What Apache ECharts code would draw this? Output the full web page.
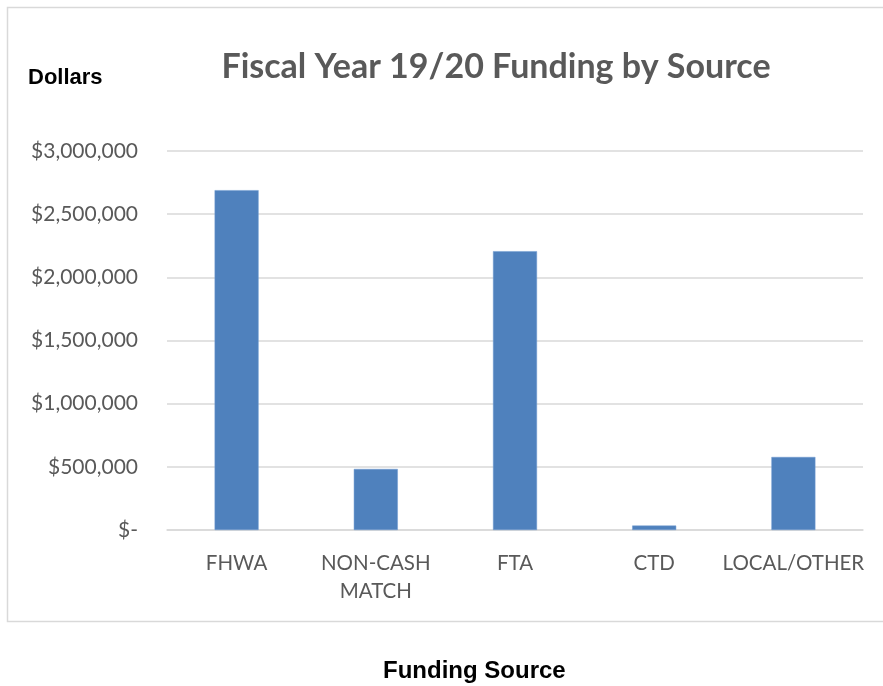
<!DOCTYPE html>
<html><head><meta charset="utf-8">
<script src="https://cdn.jsdelivr.net/npm/echarts@6/dist/echarts.min.js"></script>
<style>html,body{margin:0;padding:0;background:#fff}#c{width:883px;height:686px}</style>
</head><body><div id="c"></div>
<script>
const categories = ['FHWA', 'NON-CASH\nMATCH', 'FTA', 'CTD', 'LOCAL/OTHER'];
const values = [2690000, 483000, 2207000, 35000, 578000];
const yTicks = [0, 500000, 1000000, 1500000, 2000000, 2500000, 3000000];
const titleText = 'Fiscal Year 19/20 Funding by Source';
const yName = 'Dollars';
const xName = 'Funding Source';

const chart = echarts.init(document.getElementById('c'));
const grey = '#595959';
chart.setOption({
  animation: false,
  graphic: [
    {type: 'rect', shape: {x: 7.5, y: 7.5, width: 900, height: 614}, style: {fill: 'none', stroke: '#d9d9d9', lineWidth: 1.5}, z: -1},
    {type: 'text', left: 28, top: 67, style: {text: yName, font: 'bold 22px "Liberation Sans", Arial', fill: '#000'}},
    {type: 'text', left: 383, top: 659, style: {text: xName, font: 'bold 24px "Liberation Sans", Arial', fill: '#000'}}
  ],
  title: {text: titleText, left: 491, top: 45, textAlign: 'center',
    textStyle: {fontFamily: 'Lato', fontWeight: 'bold', fontSize: 34, color: grey}},
  grid: {left: 167, right: 20, top: 151, bottom: 156},
  xAxis: {type: 'category', data: categories,
    axisLine: {lineStyle: {color: '#d9d9d9', width: 1.5}}, axisTick: {show: false},
    axisLabel: {color: grey, fontFamily: 'Lato', fontSize: 20.5, lineHeight: 28, margin: 19, interval: 0}},
  yAxis: {type: 'value', min: 0, max: 3000000, interval: 500000,
    axisLine: {show: false}, axisTick: {show: false},
    splitLine: {lineStyle: {color: '#d9d9d9', width: 1.5}},
    axisLabel: {color: grey, fontFamily: 'Lato', fontSize: 21, margin: 29,
      formatter: v => yTicks.includes(v) ? (v === 0 ? '$-' : '$' + v.toLocaleString('en-US')) : ''}},
  series: [{type: 'bar', data: values, barWidth: 44,
    itemStyle: {color: '#4f81bd', borderColor: '#6f9bd0', borderWidth: 0.5}}]
});
</script></body></html>
